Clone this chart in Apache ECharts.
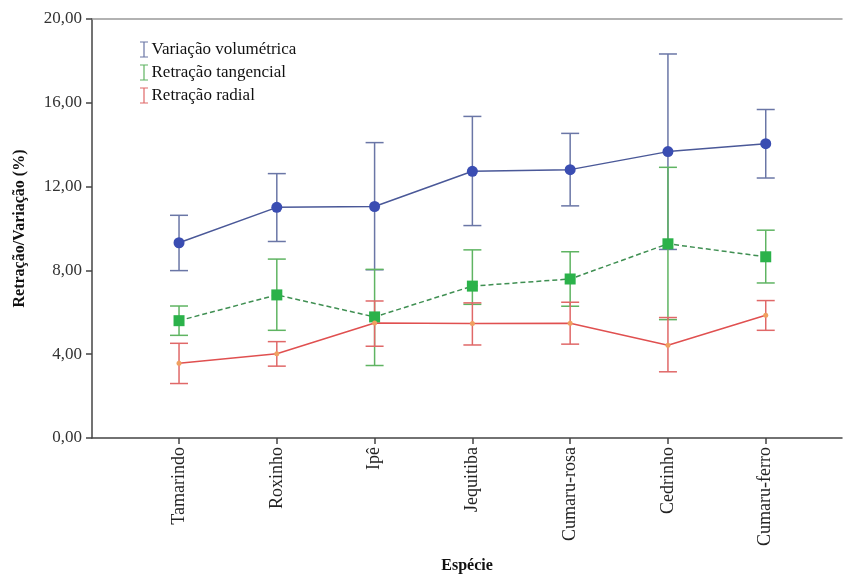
<!DOCTYPE html>
<html>
<head>
<meta charset="utf-8">
<script src="https://cdn.jsdelivr.net/npm/echarts@6/dist/echarts.min.js"></script>
<style>
  html, body { margin: 0; padding: 0; background: #fff; }
  #chart { width: 844px; height: 574px; }
</style>
</head>
<body>
<div id="chart"></div>
<script>
// Species along the x axis
const especies = ['Tamarindo', 'Roxinho', 'Ipê', 'Jequitiba', 'Cumaru-rosa', 'Cedrinho', 'Cumaru-ferro'];

// Means (%) per species
const volumetrica = [9.32, 11.01, 11.05, 12.73, 12.81, 13.67, 14.05];
const tangencial = [5.60, 6.83, 5.78, 7.25, 7.59, 9.27, 8.65];
const radial = [3.57, 4.02, 5.49, 5.46, 5.48, 4.43, 5.86];

// Error bar limits (lower, upper)
const volumetricaInf = [7.99, 9.38, 8.03, 10.14, 11.08, 9.00, 12.41];
const volumetricaSup = [10.63, 12.62, 14.10, 15.35, 14.54, 18.33, 15.68];
const tangencialInf = [4.90, 5.14, 3.46, 6.38, 6.29, 5.65, 7.40];
const tangencialSup = [6.30, 8.54, 8.05, 8.98, 8.89, 12.92, 9.92];
const radialInf = [2.60, 3.43, 4.38, 4.44, 4.48, 3.16, 5.14];
const radialSup = [4.52, 4.60, 6.54, 6.45, 6.48, 5.75, 6.56];

// Y axis ticks
const yTicks = [0, 4, 8, 12, 16, 20];

const serif = '"Liberation Serif", "Times New Roman", serif';
const idx = especies.map((_, i) => i);

function pontos(valores) {
  return valores.map((v, i) => [i, v]);
}
function barras(inf, sup) {
  return inf.map((v, i) => [i, v, sup[i]]);
}

// Vertical error bar with horizontal caps
function desenhaBarra(cor) {
  return function (params, api) {
    const x = api.value(0);
    const lo = api.coord([x, api.value(1)]);
    const hi = api.coord([x, api.value(2)]);
    const w = 9;
    const estilo = { stroke: cor, lineWidth: 1.5 };
    return {
      type: 'group',
      children: [
        { type: 'line', shape: { x1: lo[0], y1: lo[1], x2: hi[0], y2: hi[1] }, style: estilo },
        { type: 'line', shape: { x1: hi[0] - w, y1: hi[1], x2: hi[0] + w, y2: hi[1] }, style: estilo },
        { type: 'line', shape: { x1: lo[0] - w, y1: lo[1], x2: lo[0] + w, y2: lo[1] }, style: estilo }
      ]
    };
  };
}

const iconeI = 'path://M0,0 L8,0 L8,1 L4.6,1 L4.6,15 L8,15 L8,16 L0,16 L0,15 L3.4,15 L3.4,1 L0,1 Z';

const corVol = '#6a76a6', corTan = '#5fb462', corRad = '#e06868';

const chart = echarts.init(document.getElementById('chart'));
chart.setOption({
  animation: false,
  backgroundColor: '#fff',
  grid: { left: 92, top: 19, right: 2, bottom: 136, outerBoundsMode: 'none', containLabel: false },
  legend: {
    left: 135, top: 36, orient: 'vertical',
    itemWidth: 9, itemHeight: 16, itemGap: 6,
    textStyle: { fontFamily: serif, fontSize: 17, color: '#111', padding: [0, 0, 0, -2] },
    data: [
      { name: 'Variação volumétrica', icon: iconeI, itemStyle: { color: corVol } },
      { name: 'Retração tangencial', icon: iconeI, itemStyle: { color: corTan } },
      { name: 'Retração radial', icon: iconeI, itemStyle: { color: corRad } }
    ]
  },
  xAxis: [{
    type: 'value',
    min: -0.89, max: 6.78,
    name: 'Espécie', nameLocation: 'middle', nameGap: 120,
    nameTextStyle: { fontFamily: serif, fontSize: 16, fontWeight: 'bold', color: '#111' },
    axisLine: { show: true, onZero: false, lineStyle: { color: '#444', width: 1.5 } },
    axisTick: { show: true, customValues: idx, length: 6, lineStyle: { color: '#444', width: 1.5 } },
    axisLabel: {
      customValues: idx, rotate: 90, margin: 9,
      fontFamily: serif, fontSize: 18, color: '#222',
      formatter: v => especies[Math.round(v)]
    },
    splitLine: { show: false }
  }, {
    type: 'value', position: 'top',
    min: -0.89, max: 6.78,
    axisLine: { show: true, onZero: false, lineStyle: { color: '#999', width: 1.5 } },
    axisTick: { show: false }, axisLabel: { show: false }, splitLine: { show: false }
  }],
  yAxis: {
    type: 'value', min: 0, max: 20, interval: 4,
    name: 'Retração/Variação (%)', nameLocation: 'middle', nameGap: 64, nameRotate: 90,
    nameTextStyle: { fontFamily: serif, fontSize: 16, fontWeight: 'bold', color: '#111' },
    axisLine: { show: true, onZero: false, lineStyle: { color: '#444', width: 1.5 } },
    axisTick: { show: true, length: 6, lineStyle: { color: '#444', width: 1.5 } },
    axisLabel: {
      margin: 10, fontFamily: serif, fontSize: 17, color: '#333',
      formatter: v => yTicks.includes(v) ? v.toFixed(2).replace('.', ',') : ''
    },
    splitLine: { show: false }
  },
  series: [
    { name: 'Variação volumétrica', type: 'custom', renderItem: desenhaBarra(corVol),
      data: barras(volumetricaInf, volumetricaSup), encode: { x: 0, y: [1, 2] }, z: 2 },
    { name: 'Retração tangencial', type: 'custom', renderItem: desenhaBarra(corTan),
      data: barras(tangencialInf, tangencialSup), encode: { x: 0, y: [1, 2] }, z: 2 },
    { name: 'Retração radial', type: 'custom', renderItem: desenhaBarra(corRad),
      data: barras(radialInf, radialSup), encode: { x: 0, y: [1, 2] }, z: 2 },
    { name: 'Variação volumétrica', type: 'line', data: pontos(volumetrica), z: 3,
      symbol: 'circle', symbolSize: 11, itemStyle: { color: '#3a4db2' },
      lineStyle: { color: '#4a5898', width: 1.5 } },
    { name: 'Retração tangencial', type: 'line', data: pontos(tangencial), z: 3,
      symbol: 'rect', symbolSize: 11, itemStyle: { color: '#2bb24a' },
      lineStyle: { color: '#3f8f52', width: 1.5, type: [5, 3] } },
    { name: 'Retração radial', type: 'line', data: pontos(radial), z: 3,
      symbol: 'circle', symbolSize: 5, itemStyle: { color: '#f0a060' },
      lineStyle: { color: '#e05050', width: 1.5 } }
  ]
});
</script>
</body>
</html>
